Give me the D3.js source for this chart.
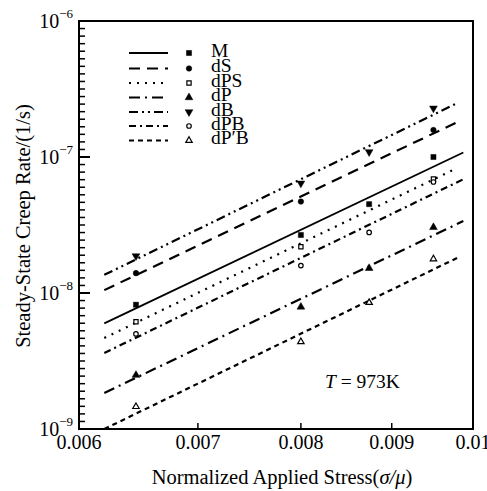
<!DOCTYPE html>
<html><head><meta charset="utf-8">
<script src="https://cdn.jsdelivr.net/npm/d3@7"></script>
<style>body{margin:0;background:#fff}</style>
</head><body><svg id="c" width="487" height="491" font-family="'Liberation Serif', 'Times New Roman', 'DejaVu Serif', serif"></svg>
<script>
// ---- data ----
const stress = [0.00646, 0.0080, 0.00874, 0.0095];
const seriesNames = ["M", "dS", "dPS", "dP", "dB", "dPB", "dP\u2032B"];
const rateM   = [8.2e-9, 2.67e-8, 4.5e-8, 1.0e-7];
const rateDS  = [1.40e-8, 4.7e-8, null, 1.58e-7];
const rateDPS = [6.15e-9, 2.19e-8, null, 6.9e-8];
const rateDP  = [2.49e-9, 7.9e-9, 1.52e-8, 3.04e-8];
const rateDB  = [1.87e-8, 6.4e-8, 1.09e-7, 2.28e-7];
const rateDPB = [5.0e-9, 1.59e-8, 2.79e-8, 6.55e-8];
const rateDPpB= [1.46e-9, 4.38e-9, 8.5e-9, 1.78e-8];
// fitted lines: start/end points
const fitX0 = [0.0062, 0.0062, 0.0062, 0.0062, 0.0062, 0.0062, 0.0062];
const fitY0 = [5.98e-9, 1.05e-8, 4.67e-9, 1.84e-9, 1.36e-8, 3.62e-9, 1.0e-9];
const fitX1 = [0.009875, 0.00981, 0.00979, 0.009875, 0.00981, 0.009875, 0.00983];
const fitY1 = [1.08e-7, 1.82e-7, 8.26e-8, 3.38e-8, 2.51e-7, 6.86e-8, 1.85e-8];
const xTicks = [0.006, 0.007, 0.008, 0.009, 0.01];
const xTickLabels = ["0.006", "0.007", "0.008", "0.009", "0.01"];
const yTickExps = [-9, -8, -7, -6];

const allRates = [rateM, rateDS, rateDPS, rateDP, rateDB, rateDPB, rateDPpB];
const dashes = [null, "11,7", "2,6", "11,5,2,5", "9,4,2,4,2,4", "7,4,2,4", "5,4"];
const markerType = ["sq", "ci", "osq", "tri", "dtri", "oci", "otri"];

const svg = d3.select("#c");
const L = 79, R = 473, T = 21, B = 429;
const x = d3.scaleLog().domain([0.006, 0.01]).range([L, R]);
const y = d3.scaleLog().domain([1e-9, 1e-6]).range([B, T]);

function marker(g, type, cx, cy) {
  const filled = !type.startsWith("o");
  let sym, size, rot = 0;
  if (type.endsWith("sq")) { sym = d3.symbolSquare; size = filled ? 26 : 18; }
  else if (type.endsWith("ci")) { sym = d3.symbolCircle; size = filled ? 24 : 16; }
  else { sym = d3.symbolTriangle; size = filled ? 26 : 18; if (type === "dtri") rot = 180; }
  g.append("path").attr("d", d3.symbol(sym, size)())
    .attr("transform", `translate(${cx},${cy}) rotate(${rot})`)
    .attr("fill", filled ? "#000" : "#fff").attr("stroke", "#000")
    .attr("stroke-width", filled ? 0.5 : 1.2);
}

// fitted lines
seriesNames.forEach((n, i) => {
  svg.append("line")
    .attr("x1", x(fitX0[i])).attr("y1", y(fitY0[i]))
    .attr("x2", x(fitX1[i])).attr("y2", y(fitY1[i]))
    .attr("stroke", "#000").attr("stroke-width", i === 0 ? 1.8 : 2.2)
    .attr("stroke-dasharray", dashes[i]);
});
// markers
const mg = svg.append("g");
allRates.forEach((arr, i) => {
  arr.forEach((v, j) => { if (v != null) marker(mg, markerType[i], x(stress[j]), y(v)); });
});

// frame
svg.append("rect").attr("x", L).attr("y", T).attr("width", R - L).attr("height", B - T)
  .attr("fill", "none").attr("stroke", "#000").attr("stroke-width", 2);

// x ticks (inward)
const xa = svg.append("g");
xTicks.forEach((t, i) => {
  if (i > 0 && i < xTicks.length - 1)
    xa.append("line").attr("x1", x(t)).attr("x2", x(t)).attr("y1", B).attr("y2", B - 6)
      .attr("stroke", "#000").attr("stroke-width", 1.5);
  xa.append("text").attr("x", x(t)).attr("y", 449).attr("text-anchor", "middle")
    .attr("font-size", 20).text(xTickLabels[i]);
});

// y ticks: major and uniformly spaced minor (inward)
const ya = svg.append("g");
const nMinor = 18;
yTickExps.forEach((e, k) => {
  const v = Math.pow(10, e);
  ya.append("line").attr("x1", L).attr("x2", L + 11).attr("y1", y(v)).attr("y2", y(v))
    .attr("stroke", "#000").attr("stroke-width", 2);
  const t = ya.append("text").attr("x", 73).attr("y", y(v) + 7).attr("text-anchor", "end").attr("font-size", 20);
  t.append("tspan").text("10");
  t.append("tspan").attr("dy", -10).attr("font-size", 13).text("\u2212" + (-e));
  if (k < yTickExps.length - 1) {
    for (let m = 1; m < nMinor; m++) {
      const mv = Math.pow(10, e + m / nMinor);
      ya.append("line").attr("x1", L).attr("x2", L + 6).attr("y1", y(mv)).attr("y2", y(mv))
        .attr("stroke", "#000").attr("stroke-width", 1.5);
    }
  }
});

// axis titles
const xt = svg.append("text").attr("x", 282).attr("y", 484).attr("text-anchor", "middle").attr("font-size", 20.5);
xt.append("tspan").text("Normalized Applied Stress(");
xt.append("tspan").attr("font-style", "italic").text("\u03c3/\u03bc");
xt.append("tspan").text(")");
svg.append("text").attr("transform", "translate(30,226) rotate(-90)").attr("text-anchor", "middle")
  .attr("font-size", 20.5).text("Steady-State Creep Rate/(1/s)");

// annotation
const an = svg.append("text").attr("x", 325).attr("y", 388).attr("font-size", 19.5);
an.append("tspan").attr("font-style", "italic").text("T");
an.append("tspan").text(" = 973K");

// legend
const legRows = [53, 68.5, 83, 97.5, 112, 126, 140.5];
const lg = svg.append("g");
seriesNames.forEach((n, i) => {
  const ry = legRows[i];
  lg.append("line").attr("x1", 129).attr("x2", 168).attr("y1", ry).attr("y2", ry)
    .attr("stroke", "#000").attr("stroke-width", i === 0 ? 1.8 : 2.2).attr("stroke-dasharray", dashes[i]);
  marker(lg, markerType[i], 189, ry);
  lg.append("text").attr("x", 211).attr("y", ry + 3.5).attr("font-size", 19.5).text(n);
});
</script></body></html>
